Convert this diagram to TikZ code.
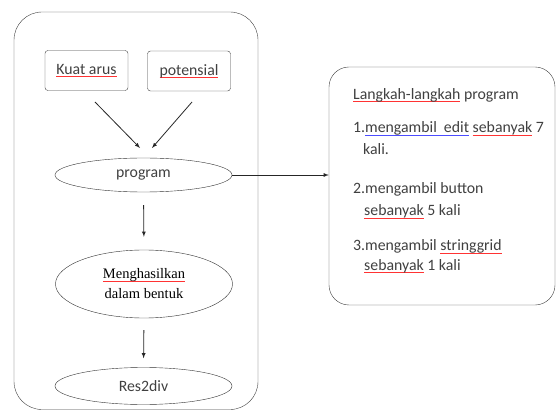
\documentclass[tikz,border=0pt]{standalone}
\usepackage{fontspec}
\setmainfont{Carlito}
\newfontfamily\timesfont{Liberation Serif}
\usetikzlibrary{shapes.geometric}

% garis merah/biru pemeriksa ejaan di bawah kata
\newsavebox{\katabox}
\newcommand{\salah}[1]{\sbox{\katabox}{#1}\rlap{\color{red!80}\rule[-2.8pt]{\wd\katabox}{0.9pt}}\usebox{\katabox}}
\newcommand{\tatabahasa}[1]{\sbox{\katabox}{#1}\rlap{\color{blue!70}\rule[-2.8pt]{\wd\katabox}{0.9pt}}\usebox{\katabox}}

\tikzset{
  kotak/.style={draw=black!75,rounded corners=3pt,minimum width=83pt,minimum height=40pt,inner sep=0pt},
  elips/.style={ellipse,draw=black!80,minimum width=177pt,minimum height=34pt,inner sep=0pt},
  panah/.style={->,>=latex,draw=black!85,thick},
  tulisan/.style={anchor=base west,inner sep=0pt,text=black!75}
}

\begin{document}
\begin{tikzpicture}[x=1pt,y=-1pt,font=\fontsize{15.8}{19}\selectfont]
\useasboundingbox (0,0) rectangle (556,411);

% wadah kiri
\draw[black!75,rounded corners=28pt] (14,12) rectangle (258,409.5);

\node[kotak,text=black!75] (arus) at (86.5,70.5) {\salah{Kuat arus}};
\node[kotak,text=black!75] (pot) at (189,71) {\salah{potensial}};

\node[elips,text=black!75] (prog) at (143.5,175) {program};
\node[elips,minimum height=68pt,align=center] (hasil) at (144,284)
  {\timesfont\fontsize{14.5}{18}\selectfont\salah{Menghasilkan}\\[1pt]\timesfont\fontsize{14.5}{18}\selectfont dalam bentuk};
\node[elips,text=black!75,minimum height=37pt] (res) at (143.5,386) {Res2div};

\coordinate (a1) at (95,102);
\coordinate (a2) at (140,148);
\coordinate (b1) at (192,102);
\coordinate (b2) at (152,148);
\draw[panah] (a1) -- (a2);
\draw[panah] (b1) -- (b2);
\draw[panah,shorten <=13pt,shorten >=13pt] (prog.south) -- (hasil.north);
\draw[panah,shorten <=12pt,shorten >=9pt] (hasil.south) -- (res.north);

% kotak langkah-langkah
\node[draw=black!75,rounded corners=20pt,minimum width=226pt,minimum height=238pt] (langkah) at (442,186) {};
\draw[panah] (prog.east) -- (prog.east -| langkah.west);

\node[tulisan] (t0) at (353,99.5) {\salah{Langkah-langkah} program};
\node[tulisan] (t1) at (353,133) {1.\tatabahasa{mengambil\ \ edit} \salah{sebanyak} 7};
\node[tulisan] (t1b) at (363,155) {kali.};
\node[tulisan] (t2) at (353,194) {2.mengambil button};
\node[tulisan] (t2b) at (364,216) {\salah{sebanyak} 5 kali};
\node[tulisan] (t3) at (353,251) {3.mengambil \salah{stringgrid}};
\node[tulisan] (t3b) at (364,270) {\salah{sebanyak} 1 kali};
\end{tikzpicture}
\end{document}
